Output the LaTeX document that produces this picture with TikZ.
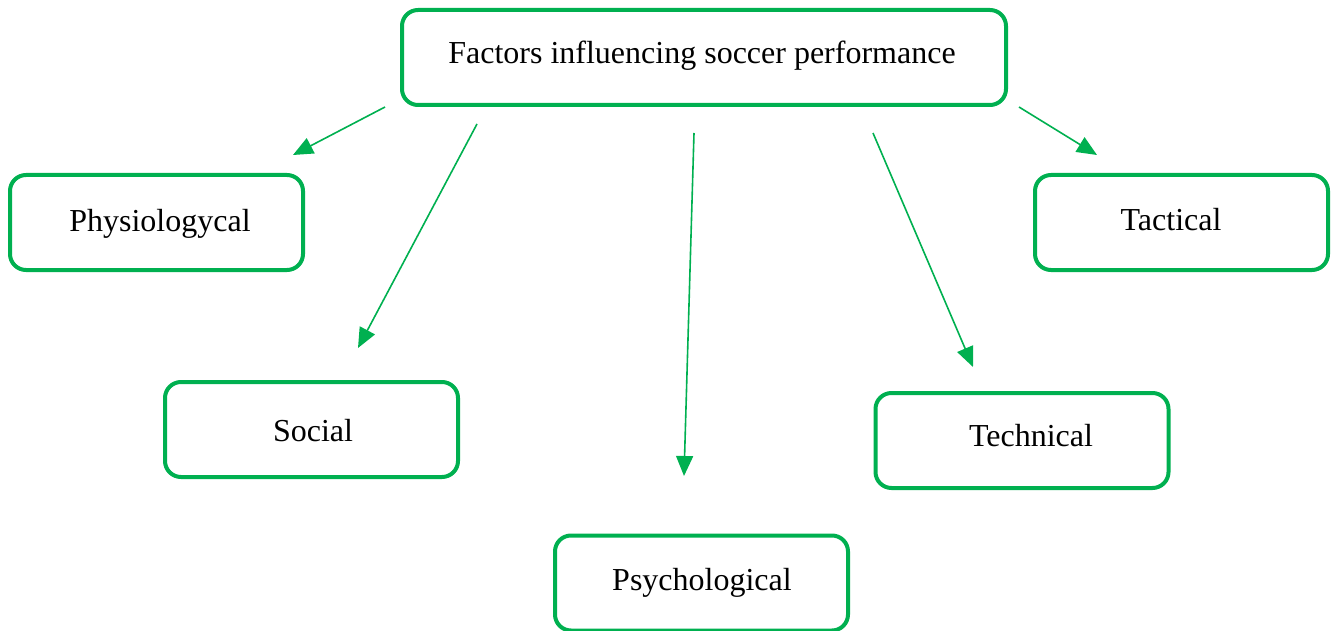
\documentclass[tikz,border=0pt]{standalone}
\usepackage{fontspec}
\setmainfont{Liberation Serif}
\usetikzlibrary{arrows.meta}
\definecolor{wgreen}{HTML}{00B050}
\begin{document}
\begin{tikzpicture}[x=1pt,y=-1pt,
  box/.style={draw=wgreen,line width=4pt,rounded corners=16pt,fill=white,
    minimum width=293pt,minimum height=95pt,inner sep=0pt},
  lbl/.style={font=\fontsize{32}{38}\selectfont,inner sep=0pt,anchor=base},
  conn/.style={draw=wgreen,line width=1.6pt,-{Triangle[length=20pt,width=17pt]}}]
\useasboundingbox (0,0) rectangle (1333,631);
\node[box,minimum width=604pt] (main) at (704,57.5) {};
\node[lbl] (mainT) at (702,64) {Factors influencing soccer performance};
\node[box] (phys) at (156.5,222.5) {};
\node[lbl] (physT) at (160,231) {Physiologycal};
\node[box] (tact) at (1181.5,222.5) {};
\node[lbl] (tactT) at (1171,230) {Tactical};
\node[box] (soc) at (311.5,429.5) {};
\node[lbl] (socT) at (313,441) {Social};
\node[box] (tech) at (1022,440.5) {};
\node[lbl] (techT) at (1031,446) {Technical};
\node[box] (psy) at (701.5,583) {};
\node[lbl] (psyT) at (702,590) {Psychological};
\coordinate (a1s) at (385,107); \coordinate (a1e) at (293,155);
\coordinate (a2s) at (477,124); \coordinate (a2e) at (358,348);
\coordinate (a3s) at (694,133); \coordinate (a3e) at (684,476);
\coordinate (a4s) at (873,133); \coordinate (a4e) at (973,367);
\coordinate (a5s) at (1019,107); \coordinate (a5e) at (1097,155);
\draw[conn] (a1s) -- (a1e);
\draw[conn] (a2s) -- (a2e);
\draw[conn] (a3s) -- (a3e);
\draw[conn] (a4s) -- (a4e);
\draw[conn] (a5s) -- (a5e);
\end{tikzpicture}
\end{document}
